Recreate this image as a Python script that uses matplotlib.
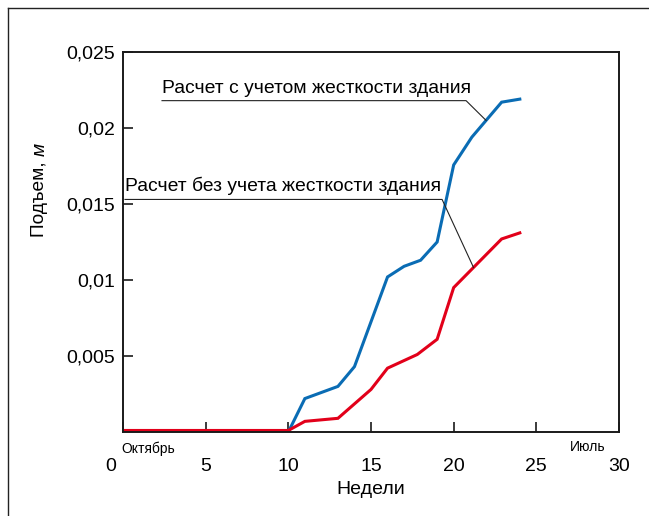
import numpy as np
import matplotlib
matplotlib.use('Agg')
import matplotlib.pyplot as plt
from matplotlib.transforms import ScaledTranslation

plt.rcParams['font.family'] = ['Liberation Sans', 'DejaVu Sans']

# недели от начала наблюдений и подъем, м
weeks_rigid = [0, 10, 11, 13, 14, 16, 17, 18, 19, 20, 21.1, 22.9, 24]
lift_rigid = [0, 0, 0.0022, 0.003, 0.0043, 0.0102, 0.0109, 0.0113, 0.0125,
              0.01757, 0.0194, 0.0217, 0.0219]

weeks_free = [0, 10, 11, 13, 15, 16, 17.8, 19, 20, 22.9, 24]
lift_free = [0.0001, 0.0001, 0.0007, 0.0009, 0.0028, 0.0042, 0.0051, 0.0061,
             0.0095, 0.0127, 0.0131]

label_rigid = 'Расчет с учетом жесткости здания'
label_free = 'Расчет без учета жесткости здания'

x_ticks = [0, 5, 10, 15, 20, 25, 30]
y_ticks = [0.005, 0.01, 0.015, 0.02, 0.025]
y_ticklabels = ['0,005', '0,01', '0,015', '0,02', '0,025']

blue = '#0a6cb4'
red = '#e2001a'

fig = plt.figure(figsize=(6.49, 5.16), dpi=100)
ax = fig.add_axes([0.1895, 0.1628, 0.7643, 0.7364])

ax.plot(weeks_rigid, lift_rigid, color=blue, lw=2.2, solid_joinstyle='miter')
ax.plot(weeks_free, lift_free, color=red, lw=2.2, solid_joinstyle='miter')

ax.set_xlim(0, 30)
ax.set_ylim(0, 0.025)
ax.set_xticks(x_ticks)
ax.set_yticks(y_ticks)
ax.set_yticklabels(y_ticklabels)
ax.tick_params(direction='in', length=7.5, width=1.2, colors='#1a1a1a',
               labelsize=14, labelcolor='black')
ax.tick_params(axis='x', pad=19)
ax.tick_params(axis='y', pad=6)
for s in ax.spines.values():
    s.set_linewidth(1.4)
    s.set_color('#1a1a1a')

# подпись "0" сдвинута влево от начала оси
lbl0 = ax.get_xticklabels()[0]
lbl0.set_transform(lbl0.get_transform() + ScaledTranslation(-12 / 100, 0, fig.dpi_scale_trans))

ax.set_xlabel('Недели', fontsize=14, labelpad=4)

ax.text(-0.1, -0.045, 'Октябрь', transform=ax.get_xaxis_transform(),
        fontsize=10, ha='left', va='center')
ax.text(29.2, -0.039, 'Июль', transform=ax.get_xaxis_transform(),
        fontsize=10, ha='right', va='center')

# подпись оси Y: "Подъем," прямым, "м" курсивом
t = fig.text(40 / 649, 1 - 237 / 516, 'Подъем, ', rotation=90, fontsize=13.8,
             ha='center', va='bottom')
ax.annotate('м', xy=(0.5, 1), xycoords=t, rotation=90, fontsize=13.8,
            style='italic', ha='center', va='bottom')

# выноски к кривым
def callout(text, x0, x1, y, xw, weeks, lift):
    yc = np.interp(xw, weeks, lift)
    ax.plot([x0, x1, xw], [y, y, yc], color='#222222', lw=0.8)
    ax.text(x0 + 0.02, y + 0.00026, text, fontsize=13.9, ha='left', va='bottom')

callout(label_rigid, 2.36, 20.75, 0.0218, 21.96, weeks_rigid, lift_rigid)
callout(label_free, 0.12, 19.3, 0.0153, 21.2, weeks_free, lift_free)

# рамка рисунка
fig.add_artist(plt.Line2D([7.5 / 649, 7.5 / 649], [0, 1 - 8 / 516],
                          color='#222222', lw=1.0, transform=fig.transFigure))
fig.add_artist(plt.Line2D([7.5 / 649, 1], [1 - 8 / 516, 1 - 8 / 516],
                          color='#222222', lw=1.0, transform=fig.transFigure))

fig.savefig('out.png', dpi=100)
